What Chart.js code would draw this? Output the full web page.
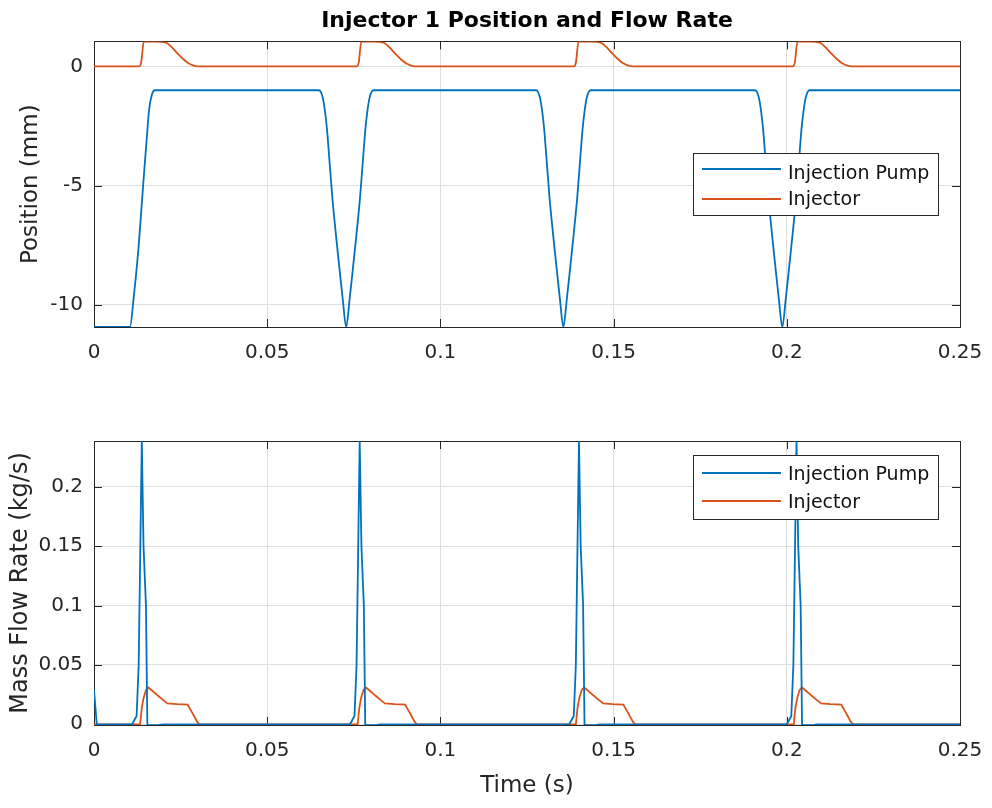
<!DOCTYPE html>
<html><head><meta charset="utf-8">
<script src="https://cdn.jsdelivr.net/npm/chart.js@4/dist/chart.umd.min.js"></script>
<style>
html,body{margin:0;padding:0;background:#fff;}
#wrap{position:relative;width:992px;height:808px;background:#fff;}
#c1{position:absolute;left:0;top:0;}
#c2{position:absolute;left:0;top:400px;}
</style></head><body>
<div id="wrap">
<canvas id="c1" width="992" height="400"></canvas>
<canvas id="c2" width="992" height="408"></canvas>
</div>
<script>
// ---- tick values / labels ----
const xTicks = [0, 0.05, 0.1, 0.15, 0.2, 0.25];
const xTickLabels = ['0', '0.05', '0.1', '0.15', '0.2', '0.25'];
const posTicks = [-10, -5, 0];
const posTickLabels = ['-10', '-5', '0'];
const flowTicks = [0, 0.05, 0.1, 0.15, 0.2];
const flowTickLabels = ['0', '0.05', '0.1', '0.15', '0.2'];
const seriesNames = ['Injection Pump', 'Injector'];

// ---- top plot: position (mm) ----
const pumpPosTime = [0, 0.0104, 0.0114, 0.0128, 0.0142, 0.0152, 0.0159, 0.0167, 0.0176,
  0.0649, 0.0655, 0.0661, 0.0667, 0.0673, 0.0680, 0.0688, 0.0698, 0.0708, 0.0718, 0.0728, 0.0738, 0.0748, 0.0758, 0.0768, 0.0776, 0.0783, 0.0789, 0.0795, 0.0801, 0.0807,
  0.1276, 0.1282, 0.1288, 0.1294, 0.1300, 0.1307, 0.1315, 0.1325, 0.1335, 0.1345, 0.1355, 0.1365, 0.1375, 0.1385, 0.1395, 0.1403, 0.1410, 0.1416, 0.1422, 0.1428, 0.1434,
  0.1908, 0.1914, 0.1920, 0.1926, 0.1932, 0.1939, 0.1947, 0.1957, 0.1967, 0.1977, 0.1987, 0.1997, 0.2007, 0.2017, 0.2027, 0.2035, 0.2042, 0.2048, 0.2054, 0.2060, 0.2066,
  0.25];
const pumpPos = [-10.93, -10.93, -9.78, -7.69, -4.96, -3.07, -1.82, -1.19, -1.0,
  -1.0, -1.08, -1.35, -1.9, -2.7, -4.0, -5.5, -7.0, -8.4, -9.75, -10.93, -9.75, -8.4, -7.0, -5.5, -4.0, -2.7, -1.9, -1.35, -1.08, -1.0,
  -1.0, -1.08, -1.35, -1.9, -2.7, -4.0, -5.5, -7.0, -8.4, -9.75, -10.93, -9.75, -8.4, -7.0, -5.5, -4.0, -2.7, -1.9, -1.35, -1.08, -1.0,
  -1.0, -1.08, -1.35, -1.9, -2.7, -4.0, -5.5, -7.0, -8.4, -9.75, -10.93, -9.75, -8.4, -7.0, -5.5, -4.0, -2.7, -1.9, -1.35, -1.08, -1.0,
  -1.0];
const injPosTime = [0, 0.0130, 0.0136, 0.0144, 0.0175, 0.0208, 0.0225, 0.0240, 0.0258, 0.0274, 0.0286, 0.0300,
  0.0758, 0.0764, 0.0772, 0.0803, 0.0836, 0.0853, 0.0868, 0.0886, 0.0902, 0.0914, 0.0928,
  0.1385, 0.1391, 0.1399, 0.1430, 0.1463, 0.1480, 0.1495, 0.1513, 0.1529, 0.1541, 0.1555,
  0.2017, 0.2023, 0.2031, 0.2062, 0.2095, 0.2112, 0.2127, 0.2145, 0.2161, 0.2173, 0.2187,
  0.25];
const injPos = [0, 0, 0.15, 1.05, 1.04, 1.0, 0.8, 0.56, 0.3, 0.12, 0.04, 0,
  0, 0.15, 1.05, 1.04, 1.0, 0.8, 0.56, 0.3, 0.12, 0.04, 0,
  0, 0.15, 1.05, 1.04, 1.0, 0.8, 0.56, 0.3, 0.12, 0.04, 0,
  0, 0.15, 1.05, 1.04, 1.0, 0.8, 0.56, 0.3, 0.12, 0.04, 0,
  0];

// ---- bottom plot: mass flow rate (kg/s) ----
const pumpFlowTime = [0, 0.0008,
  0.0110, 0.0123, 0.0129, 0.0138, 0.0143, 0.0150, 0.0154, 0.0157, 0.0188, 0.0198,
  0.0739, 0.0752, 0.0758, 0.0767, 0.0772, 0.0779, 0.0783, 0.0786, 0.0817, 0.0827,
  0.1372, 0.1385, 0.1391, 0.1400, 0.1405, 0.1412, 0.1416, 0.1419, 0.1450, 0.1460,
  0.2000, 0.2013, 0.2019, 0.2028, 0.2033, 0.2040, 0.2044, 0.2047, 0.2078, 0.2088,
  0.25];
const pumpFlow = [0.029, 0,
  0, 0.007, 0.05, 0.2387, 0.15, 0.10, 0, -0.0008, -0.0005, 0,
  0, 0.007, 0.05, 0.2387, 0.15, 0.10, 0, -0.0008, -0.0005, 0,
  0, 0.007, 0.05, 0.2387, 0.15, 0.10, 0, -0.0008, -0.0005, 0,
  0, 0.007, 0.05, 0.2387, 0.15, 0.10, 0, -0.0008, -0.0005, 0,
  0];
const injFlowTime = [0, 0.0133, 0.0138, 0.0143, 0.0150, 0.0157, 0.0170, 0.0185, 0.0200, 0.0212, 0.0240, 0.0270, 0.0285, 0.0298, 0.0304,
  0.0761, 0.0766, 0.0771, 0.0778, 0.0785, 0.0798, 0.0813, 0.0828, 0.0840, 0.0868, 0.0898, 0.0913, 0.0926, 0.0932,
  0.1391, 0.1396, 0.1401, 0.1408, 0.1415, 0.1428, 0.1443, 0.1458, 0.1470, 0.1498, 0.1528, 0.1543, 0.1556, 0.1562,
  0.2020, 0.2025, 0.2030, 0.2037, 0.2044, 0.2057, 0.2072, 0.2087, 0.2099, 0.2127, 0.2157, 0.2172, 0.2185, 0.2191,
  0.25];
const injFlow = [0, 0, 0.014, 0.022, 0.029, 0.031, 0.0278, 0.024, 0.0204, 0.0176, 0.017, 0.0166, 0.009, 0.002, 0,
  0, 0.014, 0.022, 0.029, 0.031, 0.0278, 0.024, 0.0204, 0.0176, 0.017, 0.0166, 0.009, 0.002, 0,
  0, 0.014, 0.022, 0.029, 0.031, 0.0278, 0.024, 0.0204, 0.0176, 0.017, 0.0166, 0.009, 0.002, 0,
  0, 0.014, 0.022, 0.029, 0.031, 0.0278, 0.024, 0.0204, 0.0176, 0.017, 0.0166, 0.009, 0.002, 0,
  0];

const BLUE = '#0072BD', ORANGE = '#D95319';
const AXC = '#262626', GRIDC = '#dedede';
Chart.defaults.font.family = '"DejaVu Sans", sans-serif';
Chart.defaults.color = AXC;

function pts(t, v) { return t.map((x, i) => ({x: x, y: v[i]})); }

const matlabAxes = {
  id: 'matlabAxes',
  beforeDatasetsDraw(chart) {
    const {ctx, chartArea: a, scales} = chart;
    ctx.save();
    ctx.strokeStyle = AXC; ctx.lineWidth = 1;
    const L = 8;
    ctx.beginPath();
    scales.x.ticks.forEach(t => {
      const px = Math.round(scales.x.getPixelForValue(t.value)) + 0.5;
      ctx.moveTo(px, a.top); ctx.lineTo(px, a.top + L);
      ctx.moveTo(px, a.bottom); ctx.lineTo(px, a.bottom - L);
    });
    scales.y.ticks.forEach(t => {
      const py = Math.round(scales.y.getPixelForValue(t.value)) + 0.5;
      ctx.moveTo(a.left, py); ctx.lineTo(a.left + L, py);
      ctx.moveTo(a.right, py); ctx.lineTo(a.right - L, py);
    });
    ctx.stroke();
    ctx.strokeRect(Math.round(a.left) + 0.5, Math.round(a.top) + 0.5,
      Math.round(a.right - a.left), Math.round(a.bottom - a.top));
    ctx.restore();
  },
  afterDraw(chart, args, o) {
    const {ctx} = chart;
    ctx.save();
    ctx.fillStyle = '#fff';
    ctx.fillRect(o.x1, o.y1, o.x2 - o.x1, o.y2 - o.y1);
    ctx.strokeStyle = AXC; ctx.lineWidth = 1;
    ctx.strokeRect(o.x1, o.y1, o.x2 - o.x1, o.y2 - o.y1);
    chart.data.datasets.forEach((ds, i) => {
      ctx.strokeStyle = ds.borderColor; ctx.lineWidth = ds.borderWidth;
      ctx.beginPath(); ctx.moveTo(o.lx1, o.lineY[i]); ctx.lineTo(o.lx2, o.lineY[i]); ctx.stroke();
      ctx.fillStyle = '#111';
      ctx.font = '19px "DejaVu Sans"';
      ctx.textBaseline = 'alphabetic'; ctx.textAlign = 'left';
      ctx.fillText(ds.label, o.tx, o.base[i]);
    });
    ctx.restore();
  }
};

function xScale(height, title) {
  return {
    type: 'linear', min: 0, max: 0.25,
    afterBuildTicks: s => { s.ticks = xTicks.map(v => ({value: v})); },
    afterFit: s => { s.height = height; s.paddingLeft = 0; s.paddingRight = 0; },
    ticks: { callback: (v, i) => xTickLabels[i], padding: 14, font: {size: 20}, maxRotation: 0, autoSkip: false },
    grid: { color: GRIDC, drawTicks: false, lineWidth: 1 },
    border: { display: false },
    title: title
  };
}

new Chart(document.getElementById('c1'), {
  type: 'line',
  data: { datasets: [
    { label: seriesNames[0], data: pts(pumpPosTime, pumpPos), borderColor: BLUE, borderWidth: 1.8, pointRadius: 0, cubicInterpolationMode: 'monotone' },
    { label: seriesNames[1], data: pts(injPosTime, injPos), borderColor: ORANGE, borderWidth: 1.8, pointRadius: 0, cubicInterpolationMode: 'monotone' }
  ]},
  options: {
    responsive: false, animation: false, devicePixelRatio: 1,
    layout: { padding: { left: 0, right: 32, top: 0, bottom: 0 } },
    scales: {
      x: xScale(73, { display: false }),
      y: {
        type: 'linear', min: -10.93, max: 1.05,
        afterBuildTicks: s => { s.ticks = posTicks.map(v => ({value: v})); },
        afterFit: s => { s.width = 94; },
        ticks: { callback: (v, i) => posTickLabels[i], padding: 11, font: {size: 20} },
        grid: { color: GRIDC, drawTicks: false, lineWidth: 1 },
        border: { display: false },
        title: { display: true, text: 'Position (mm)', font: {size: 23}, padding: {top: 17, bottom: 0} }
      }
    },
    plugins: {
      legend: { display: false }, tooltip: { enabled: false },
      title: { display: true, text: 'Injector 1 Position and Flow Rate', fullSize: false, color: '#000',
        font: {size: 22, weight: 'bold'}, padding: {top: 8, bottom: 7} },
      matlabAxes: { x1: 693.5, y1: 153.5, x2: 938.5, y2: 215.5, lx1: 702, lx2: 781, tx: 788, lineY: [169, 199], base: [179, 205] }
    }
  },
  plugins: [matlabAxes]
});

new Chart(document.getElementById('c2'), {
  type: 'line',
  data: { datasets: [
    { label: seriesNames[0], data: pts(pumpFlowTime, pumpFlow), borderColor: BLUE, borderWidth: 1.8, pointRadius: 0, tension: 0 },
    { label: seriesNames[1], data: pts(injFlowTime, injFlow), borderColor: ORANGE, borderWidth: 1.8, pointRadius: 0, tension: 0 }
  ]},
  options: {
    responsive: false, animation: false, devicePixelRatio: 1,
    layout: { padding: { left: 0, right: 32, top: 41, bottom: 0 } },
    scales: {
      x: xScale(83, { display: true, text: 'Time (s)', font: {size: 23}, padding: {top: 0, bottom: 8} }),
      y: {
        type: 'linear', min: -0.0006, max: 0.2387,
        afterBuildTicks: s => { s.ticks = flowTicks.map(v => ({value: v})); },
        afterFit: s => { s.width = 94; },
        ticks: { callback: (v, i) => flowTickLabels[i], padding: 11, font: {size: 20} },
        grid: { color: GRIDC, drawTicks: false, lineWidth: 1 },
        border: { display: false },
        title: { display: true, text: 'Mass Flow Rate (kg/s)', font: {size: 24}, padding: {top: 6, bottom: 0} }
      }
    },
    plugins: {
      legend: { display: false }, tooltip: { enabled: false },
      matlabAxes: { x1: 693.5, y1: 55.5, x2: 938.5, y2: 119.5, lx1: 702, lx2: 781, tx: 788, lineY: [73, 101], base: [80, 108] }
    }
  },
  plugins: [matlabAxes]
});
</script>
</body></html>
